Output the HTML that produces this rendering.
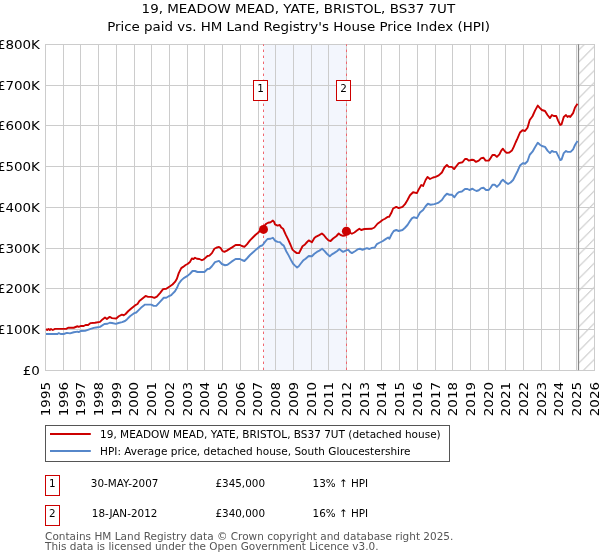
<!DOCTYPE html>
<html lang="en"><head><meta charset="utf-8"><title>19, MEADOW MEAD, YATE, BRISTOL, BS37 7UT</title>
<style>html,body{margin:0;padding:0;background:#fff}svg{display:block}</style></head>
<body>
<svg width="600" height="560" viewBox="0 0 600 560" font-family="'DejaVu Sans', 'Liberation Sans', sans-serif">
<defs><pattern id="hatch" patternUnits="userSpaceOnUse" width="12" height="12.04" x="578.4" y="2.2"><path d="M-1,13.04 L13,-1 M-1,1 L1,-1 M11,13.04 L13,11.04" stroke="#a6a6a6" stroke-width="0.85" fill="none"/></pattern><clipPath id="ax"><rect x="45.5" y="44.3" width="549.01" height="326.0"/></clipPath></defs>
<rect width="600" height="560" fill="#ffffff"/>
<rect x="263.5" y="44" width="83" height="327" fill="#f3f6fd"/>
<rect x="578.4" y="44" width="16.1" height="327" fill="url(#hatch)"/>
<path d="M45.50,44.0V371.0 M63.50,44.0V371.0 M80.50,44.0V371.0 M98.50,44.0V371.0 M116.50,44.0V371.0 M134.50,44.0V371.0 M151.50,44.0V371.0 M169.50,44.0V371.0 M187.50,44.0V371.0 M204.50,44.0V371.0 M222.50,44.0V371.0 M240.50,44.0V371.0 M258.50,44.0V371.0 M275.50,44.0V371.0 M293.50,44.0V371.0 M311.50,44.0V371.0 M328.50,44.0V371.0 M346.50,44.0V371.0 M364.50,44.0V371.0 M381.50,44.0V371.0 M399.50,44.0V371.0 M417.50,44.0V371.0 M435.50,44.0V371.0 M452.50,44.0V371.0 M470.50,44.0V371.0 M488.50,44.0V371.0 M505.50,44.0V371.0 M523.50,44.0V371.0 M541.50,44.0V371.0 M559.50,44.0V371.0 M576.50,44.0V371.0 M594.50,44.0V371.0 M45.0,370.50H595.0 M45.0,329.50H595.0 M45.0,288.50H595.0 M45.0,248.50H595.0 M45.0,207.50H595.0 M45.0,166.50H595.0 M45.0,125.50H595.0 M45.0,85.50H595.0 M45.0,44.50H595.0" stroke="#cccccc" stroke-width="1" fill="none"/>
<path d="M578.5,44.3V370.3" stroke="#888888" stroke-width="1.2" fill="none"/>
<path d="M263.5,44.3V370.3" stroke="#f0656e" stroke-width="1" stroke-dasharray="2.4,3.6" stroke-dashoffset="0.7" fill="none"/>
<path d="M346.5,44.3V370.3" stroke="#f0656e" stroke-width="1" stroke-dasharray="2.4,3.6" stroke-dashoffset="0.7" fill="none"/>
<g clip-path="url(#ax)" fill="none" stroke-linejoin="round" stroke-linecap="butt">
<path d="M46.00,334.00 L57.50,334.00 L58.75,333.10 L60.60,334.00 L63.75,334.00 L66.90,332.90 L70.00,333.40 L73.75,332.25 L77.50,331.60 L78.75,332.10 L80.60,331.00 L85.00,330.90 L90.00,329.10 L93.75,327.90 L96.25,327.50 L100.00,326.90 L104.40,324.00 L107.50,323.75 L109.75,322.75 L112.00,323.00 L115.90,323.90 L118.50,323.00 L122.10,322.10 L125.00,321.00 L126.90,319.40 L130.00,316.25 L134.40,313.10 L136.25,312.50 L139.40,309.40 L141.90,306.90 L145.00,304.60 L151.25,304.60 L153.75,305.90 L156.25,305.90 L160.00,301.90 L163.75,297.75 L166.25,297.75 L168.75,296.25 L171.25,295.20 L171.90,294.40 L175.00,291.25 L176.90,288.10 L178.75,283.75 L181.25,280.40 L183.75,278.10 L187.50,275.90 L190.00,273.75 L192.50,271.00 L195.00,271.00 L197.50,272.00 L204.40,272.00 L207.50,269.00 L209.40,268.75 L211.90,266.25 L215.00,262.10 L219.00,260.90 L221.90,264.00 L225.00,265.25 L227.50,264.75 L231.25,261.90 L235.60,259.00 L240.00,259.00 L241.90,260.00 L244.40,261.00 L246.90,258.50 L250.00,255.00 L253.10,252.25 L256.25,249.40 L260.00,246.25 L262.50,245.25 L265.00,241.90 L267.50,239.00 L270.60,238.75 L272.90,237.75 L275.00,240.60 L277.50,241.90 L280.00,242.10 L281.90,244.40 L283.75,245.60 L286.25,251.25 L288.75,255.60 L291.25,260.60 L293.10,263.75 L295.00,265.60 L297.10,267.50 L298.75,266.25 L300.60,263.75 L303.10,260.60 L305.60,258.75 L308.75,256.00 L311.90,256.25 L314.40,253.75 L316.90,251.90 L319.40,250.60 L322.10,248.75 L324.40,250.90 L326.90,253.75 L329.75,256.25 L331.90,254.40 L334.40,252.90 L336.90,251.25 L339.40,249.00 L341.25,250.60 L343.10,251.90 L346.25,250.40 L348.40,249.90 L350.00,251.90 L351.90,253.10 L355.00,251.25 L357.50,249.40 L360.00,248.75 L362.50,249.75 L366.90,248.10 L369.40,249.00 L371.90,247.90 L374.75,247.50 L376.90,244.10 L379.40,242.75 L382.50,241.25 L385.60,239.10 L388.10,237.50 L389.40,238.75 L391.90,233.75 L393.75,231.00 L396.25,230.00 L398.75,231.00 L402.50,230.00 L405.00,227.75 L407.50,225.00 L409.40,221.90 L411.90,218.40 L413.75,217.25 L416.90,218.10 L420.00,212.50 L423.10,210.00 L425.60,206.25 L427.90,203.75 L430.60,204.75 L434.40,204.10 L438.10,202.90 L441.90,200.00 L444.40,196.25 L446.90,193.75 L449.40,194.75 L451.90,194.75 L454.40,197.25 L456.90,193.75 L458.75,192.10 L461.90,191.50 L465.00,189.00 L467.50,189.00 L469.40,190.00 L472.50,188.75 L474.40,190.00 L476.50,191.00 L478.75,190.25 L481.25,188.10 L483.50,187.75 L486.00,190.00 L488.75,190.00 L490.60,187.75 L492.50,184.75 L494.75,184.75 L496.90,186.90 L499.40,184.40 L501.25,181.25 L502.90,179.75 L505.00,181.90 L508.10,184.00 L510.60,182.50 L513.10,180.00 L515.00,176.25 L517.50,171.25 L520.00,165.60 L523.10,163.10 L525.00,163.75 L527.50,161.25 L529.75,154.75 L532.50,151.70 L535.00,147.20 L537.75,142.75 L540.00,144.75 L541.90,146.00 L545.00,146.90 L547.50,150.60 L550.00,153.10 L551.90,150.90 L553.75,151.90 L556.25,151.90 L558.10,155.60 L560.25,160.00 L561.50,159.60 L563.75,153.10 L566.00,151.00 L567.50,151.90 L570.60,151.90 L573.10,149.40 L575.00,145.00 L577.50,141.00" stroke="#5687ca" stroke-width="1.9"/>
<path d="M46.00,329.00 L47.20,330.00 L48.50,329.00 L49.80,330.00 L51.00,329.00 L52.80,330.00 L55.00,328.90 L66.25,328.90 L68.10,327.75 L73.75,327.75 L77.50,326.25 L78.75,326.90 L80.60,326.00 L83.70,326.00 L85.60,325.00 L88.10,325.00 L90.60,323.10 L95.00,322.75 L100.00,321.90 L102.50,319.40 L105.00,317.50 L106.90,319.00 L109.40,316.90 L110.50,317.25 L112.00,318.10 L116.25,318.50 L118.75,316.25 L121.90,314.60 L123.75,315.25 L125.60,314.00 L128.10,311.25 L131.25,308.50 L135.00,305.40 L137.50,304.00 L139.40,301.00 L142.50,298.50 L145.60,295.90 L148.10,296.90 L151.50,296.90 L154.40,297.90 L156.90,296.60 L160.00,293.10 L163.10,289.10 L166.25,288.75 L170.00,286.25 L172.50,284.50 L175.00,281.90 L176.90,278.75 L178.75,273.10 L181.25,268.10 L183.10,266.90 L185.60,265.00 L187.50,264.00 L190.00,261.90 L191.90,258.50 L193.50,259.00 L195.00,257.75 L196.90,258.75 L199.40,259.00 L201.90,260.25 L203.75,259.40 L207.50,256.00 L209.40,255.60 L211.90,253.10 L214.40,248.75 L216.25,247.75 L219.00,246.90 L220.60,248.10 L222.50,251.00 L224.40,251.90 L226.90,250.60 L228.75,249.40 L232.50,247.10 L235.60,245.00 L240.00,245.00 L241.90,246.00 L244.40,246.90 L246.90,244.40 L250.00,240.40 L253.10,237.25 L255.60,234.75 L258.10,232.75 L260.60,230.00 L263.50,226.80 L266.25,223.75 L268.10,222.75 L270.60,222.25 L272.90,220.60 L274.10,221.90 L275.00,224.40 L277.50,225.60 L279.75,225.00 L281.25,227.50 L283.10,228.75 L285.60,234.40 L288.10,239.40 L290.60,245.00 L292.50,249.60 L295.00,251.90 L296.90,253.10 L299.00,253.10 L300.60,250.00 L302.50,246.25 L305.00,244.40 L306.90,242.25 L308.75,240.40 L311.90,242.25 L314.40,238.10 L316.25,236.60 L318.75,235.40 L321.90,233.50 L323.75,235.00 L326.25,238.10 L328.50,240.40 L330.60,241.00 L333.10,238.50 L336.25,236.25 L338.75,233.50 L340.60,235.00 L343.10,235.90 L345.00,235.60 L346.50,234.20 L348.00,232.20 L350.00,232.75 L351.90,233.75 L354.40,232.50 L356.90,230.60 L359.40,228.75 L361.25,230.00 L364.40,229.00 L371.90,228.75 L374.40,227.50 L377.50,223.75 L380.00,221.90 L382.50,220.00 L385.00,218.75 L387.50,216.90 L389.00,216.90 L391.25,213.10 L393.10,208.50 L396.25,206.90 L398.75,208.10 L402.50,206.90 L405.00,204.20 L407.50,200.00 L410.00,195.30 L413.10,192.25 L416.90,193.10 L418.75,189.40 L421.25,185.00 L423.10,186.00 L425.60,180.00 L427.50,176.90 L430.00,179.00 L433.10,177.50 L435.60,176.90 L438.75,175.40 L441.90,172.50 L444.40,167.50 L446.90,165.00 L448.75,166.90 L451.90,166.90 L454.10,169.10 L456.25,166.25 L458.75,163.10 L462.50,162.25 L465.00,159.00 L466.90,159.00 L468.75,160.60 L471.90,159.75 L473.75,160.00 L476.00,161.90 L478.75,160.60 L481.25,158.10 L483.50,157.75 L485.60,160.60 L488.75,160.60 L490.60,158.10 L492.50,155.00 L494.75,155.00 L496.90,156.90 L499.40,154.40 L501.25,150.60 L502.90,148.75 L505.00,151.50 L506.90,152.90 L509.40,152.50 L511.90,150.60 L513.75,146.90 L515.60,142.50 L517.50,138.40 L520.00,132.50 L522.50,130.20 L525.00,131.00 L527.50,127.75 L529.75,120.00 L532.50,116.25 L535.00,110.60 L537.75,105.60 L540.00,108.10 L541.90,110.00 L545.00,111.00 L547.50,115.00 L550.00,118.10 L551.90,115.00 L553.75,116.00 L556.25,116.00 L558.10,120.60 L560.25,125.00 L561.50,124.40 L563.75,116.90 L566.00,115.00 L567.50,116.90 L569.00,116.00 L570.25,116.90 L573.10,113.10 L575.00,107.50 L577.50,103.75" stroke="#cc0000" stroke-width="1.9"/>
</g>
<circle cx="263.5" cy="229.4" r="4.5" fill="#cc0000"/>
<circle cx="346.4" cy="231.3" r="4.5" fill="#cc0000"/>
<rect x="253.5" y="80.5" width="14" height="20" fill="#ffffff" stroke="#cc0000" stroke-width="1"/>
<text x="257.19" y="91.70" font-size="10.7" textLength="6.62" lengthAdjust="spacingAndGlyphs" fill="#000">1</text>
<rect x="336.5" y="80.5" width="14" height="20" fill="#ffffff" stroke="#cc0000" stroke-width="1"/>
<text x="340.19" y="91.70" font-size="10.7" textLength="6.62" lengthAdjust="spacingAndGlyphs" fill="#000">2</text>
<text x="22.80" y="374.80" font-size="12.0" textLength="17.10" lengthAdjust="spacingAndGlyphs" fill="#000">£0</text>
<text x="-3.12" y="334.05" font-size="12.0" textLength="43.02" lengthAdjust="spacingAndGlyphs" fill="#000">£100K</text>
<text x="-3.12" y="293.30" font-size="12.0" textLength="43.02" lengthAdjust="spacingAndGlyphs" fill="#000">£200K</text>
<text x="-3.12" y="252.55" font-size="12.0" textLength="43.02" lengthAdjust="spacingAndGlyphs" fill="#000">£300K</text>
<text x="-3.12" y="211.80" font-size="12.0" textLength="43.02" lengthAdjust="spacingAndGlyphs" fill="#000">£400K</text>
<text x="-3.12" y="171.05" font-size="12.0" textLength="43.02" lengthAdjust="spacingAndGlyphs" fill="#000">£500K</text>
<text x="-3.12" y="130.30" font-size="12.0" textLength="43.02" lengthAdjust="spacingAndGlyphs" fill="#000">£600K</text>
<text x="-3.12" y="89.55" font-size="12.0" textLength="43.02" lengthAdjust="spacingAndGlyphs" fill="#000">£700K</text>
<text x="-3.12" y="48.80" font-size="12.0" textLength="43.02" lengthAdjust="spacingAndGlyphs" fill="#000">£800K</text>
<text transform="translate(49.90,382.00) rotate(-90)" x="-34.20" y="0" font-size="12.0" textLength="34.20" lengthAdjust="spacingAndGlyphs" fill="#000">1995</text>
<text transform="translate(67.61,382.00) rotate(-90)" x="-34.20" y="0" font-size="12.0" textLength="34.20" lengthAdjust="spacingAndGlyphs" fill="#000">1996</text>
<text transform="translate(85.32,382.00) rotate(-90)" x="-34.20" y="0" font-size="12.0" textLength="34.20" lengthAdjust="spacingAndGlyphs" fill="#000">1997</text>
<text transform="translate(103.03,382.00) rotate(-90)" x="-34.20" y="0" font-size="12.0" textLength="34.20" lengthAdjust="spacingAndGlyphs" fill="#000">1998</text>
<text transform="translate(120.74,382.00) rotate(-90)" x="-34.20" y="0" font-size="12.0" textLength="34.20" lengthAdjust="spacingAndGlyphs" fill="#000">1999</text>
<text transform="translate(138.45,382.00) rotate(-90)" x="-34.20" y="0" font-size="12.0" textLength="34.20" lengthAdjust="spacingAndGlyphs" fill="#000">2000</text>
<text transform="translate(156.16,382.00) rotate(-90)" x="-34.20" y="0" font-size="12.0" textLength="34.20" lengthAdjust="spacingAndGlyphs" fill="#000">2001</text>
<text transform="translate(173.87,382.00) rotate(-90)" x="-34.20" y="0" font-size="12.0" textLength="34.20" lengthAdjust="spacingAndGlyphs" fill="#000">2002</text>
<text transform="translate(191.58,382.00) rotate(-90)" x="-34.20" y="0" font-size="12.0" textLength="34.20" lengthAdjust="spacingAndGlyphs" fill="#000">2003</text>
<text transform="translate(209.29,382.00) rotate(-90)" x="-34.20" y="0" font-size="12.0" textLength="34.20" lengthAdjust="spacingAndGlyphs" fill="#000">2004</text>
<text transform="translate(227.00,382.00) rotate(-90)" x="-34.20" y="0" font-size="12.0" textLength="34.20" lengthAdjust="spacingAndGlyphs" fill="#000">2005</text>
<text transform="translate(244.71,382.00) rotate(-90)" x="-34.20" y="0" font-size="12.0" textLength="34.20" lengthAdjust="spacingAndGlyphs" fill="#000">2006</text>
<text transform="translate(262.42,382.00) rotate(-90)" x="-34.20" y="0" font-size="12.0" textLength="34.20" lengthAdjust="spacingAndGlyphs" fill="#000">2007</text>
<text transform="translate(280.13,382.00) rotate(-90)" x="-34.20" y="0" font-size="12.0" textLength="34.20" lengthAdjust="spacingAndGlyphs" fill="#000">2008</text>
<text transform="translate(297.84,382.00) rotate(-90)" x="-34.20" y="0" font-size="12.0" textLength="34.20" lengthAdjust="spacingAndGlyphs" fill="#000">2009</text>
<text transform="translate(315.55,382.00) rotate(-90)" x="-34.20" y="0" font-size="12.0" textLength="34.20" lengthAdjust="spacingAndGlyphs" fill="#000">2010</text>
<text transform="translate(333.26,382.00) rotate(-90)" x="-34.20" y="0" font-size="12.0" textLength="34.20" lengthAdjust="spacingAndGlyphs" fill="#000">2011</text>
<text transform="translate(350.97,382.00) rotate(-90)" x="-34.20" y="0" font-size="12.0" textLength="34.20" lengthAdjust="spacingAndGlyphs" fill="#000">2012</text>
<text transform="translate(368.68,382.00) rotate(-90)" x="-34.20" y="0" font-size="12.0" textLength="34.20" lengthAdjust="spacingAndGlyphs" fill="#000">2013</text>
<text transform="translate(386.39,382.00) rotate(-90)" x="-34.20" y="0" font-size="12.0" textLength="34.20" lengthAdjust="spacingAndGlyphs" fill="#000">2014</text>
<text transform="translate(404.10,382.00) rotate(-90)" x="-34.20" y="0" font-size="12.0" textLength="34.20" lengthAdjust="spacingAndGlyphs" fill="#000">2015</text>
<text transform="translate(421.81,382.00) rotate(-90)" x="-34.20" y="0" font-size="12.0" textLength="34.20" lengthAdjust="spacingAndGlyphs" fill="#000">2016</text>
<text transform="translate(439.52,382.00) rotate(-90)" x="-34.20" y="0" font-size="12.0" textLength="34.20" lengthAdjust="spacingAndGlyphs" fill="#000">2017</text>
<text transform="translate(457.23,382.00) rotate(-90)" x="-34.20" y="0" font-size="12.0" textLength="34.20" lengthAdjust="spacingAndGlyphs" fill="#000">2018</text>
<text transform="translate(474.94,382.00) rotate(-90)" x="-34.20" y="0" font-size="12.0" textLength="34.20" lengthAdjust="spacingAndGlyphs" fill="#000">2019</text>
<text transform="translate(492.65,382.00) rotate(-90)" x="-34.20" y="0" font-size="12.0" textLength="34.20" lengthAdjust="spacingAndGlyphs" fill="#000">2020</text>
<text transform="translate(510.36,382.00) rotate(-90)" x="-34.20" y="0" font-size="12.0" textLength="34.20" lengthAdjust="spacingAndGlyphs" fill="#000">2021</text>
<text transform="translate(528.07,382.00) rotate(-90)" x="-34.20" y="0" font-size="12.0" textLength="34.20" lengthAdjust="spacingAndGlyphs" fill="#000">2022</text>
<text transform="translate(545.78,382.00) rotate(-90)" x="-34.20" y="0" font-size="12.0" textLength="34.20" lengthAdjust="spacingAndGlyphs" fill="#000">2023</text>
<text transform="translate(563.49,382.00) rotate(-90)" x="-34.20" y="0" font-size="12.0" textLength="34.20" lengthAdjust="spacingAndGlyphs" fill="#000">2024</text>
<text transform="translate(581.20,382.00) rotate(-90)" x="-34.20" y="0" font-size="12.0" textLength="34.20" lengthAdjust="spacingAndGlyphs" fill="#000">2025</text>
<text transform="translate(598.91,382.00) rotate(-90)" x="-34.20" y="0" font-size="12.0" textLength="34.20" lengthAdjust="spacingAndGlyphs" fill="#000">2026</text>
<text x="141.64" y="13.00" font-size="12.0" textLength="313.52" lengthAdjust="spacingAndGlyphs" fill="#000">19, MEADOW MEAD, YATE, BRISTOL, BS37 7UT</text>
<text x="107.15" y="30.50" font-size="12.0" textLength="382.89" lengthAdjust="spacingAndGlyphs" fill="#000">Price paid vs. HM Land Registry&#39;s House Price Index (HPI)</text>
<rect x="45.5" y="425.5" width="404" height="36" fill="#ffffff" stroke="#555555" stroke-width="1"/>
<path d="M50,434H90.8" stroke="#cc0000" stroke-width="2"/>
<path d="M50,451H90.8" stroke="#5687ca" stroke-width="2"/>
<text x="100.10" y="438.00" font-size="10.7" textLength="340.60" lengthAdjust="spacingAndGlyphs" fill="#000">19, MEADOW MEAD, YATE, BRISTOL, BS37 7UT (detached house)</text>
<text x="100.10" y="454.80" font-size="10.7" textLength="310.45" lengthAdjust="spacingAndGlyphs" fill="#000">HPI: Average price, detached house, South Gloucestershire</text>
<rect x="45.5" y="475.5" width="14" height="20" fill="#ffffff" stroke="#cc0000" stroke-width="1"/>
<text x="49.09" y="486.90" font-size="10.7" textLength="6.62" lengthAdjust="spacingAndGlyphs" fill="#000">1</text>
<text x="90.80" y="486.90" font-size="10.7" textLength="67.61" lengthAdjust="spacingAndGlyphs" fill="#000">30-MAY-2007</text>
<text x="215.40" y="486.90" font-size="10.7" textLength="49.63" lengthAdjust="spacingAndGlyphs" fill="#000">£345,000</text>
<text x="312.60" y="486.90" font-size="10.7" textLength="55.60" lengthAdjust="spacingAndGlyphs" fill="#000">13% ↑ HPI</text>
<rect x="45.5" y="505.5" width="14" height="20" fill="#ffffff" stroke="#cc0000" stroke-width="1"/>
<text x="49.09" y="516.90" font-size="10.7" textLength="6.62" lengthAdjust="spacingAndGlyphs" fill="#000">2</text>
<text x="91.82" y="516.90" font-size="10.7" textLength="65.57" lengthAdjust="spacingAndGlyphs" fill="#000">18-JAN-2012</text>
<text x="215.40" y="516.90" font-size="10.7" textLength="49.63" lengthAdjust="spacingAndGlyphs" fill="#000">£340,000</text>
<text x="312.60" y="516.90" font-size="10.7" textLength="55.60" lengthAdjust="spacingAndGlyphs" fill="#000">16% ↑ HPI</text>
<text x="45.10" y="539.70" font-size="10.7" textLength="408.29" lengthAdjust="spacingAndGlyphs" fill="#555555">Contains HM Land Registry data © Crown copyright and database right 2025.</text>
<text x="45.10" y="549.50" font-size="10.7" textLength="333.38" lengthAdjust="spacingAndGlyphs" fill="#555555">This data is licensed under the Open Government Licence v3.0.</text>
</svg>
</body></html>
